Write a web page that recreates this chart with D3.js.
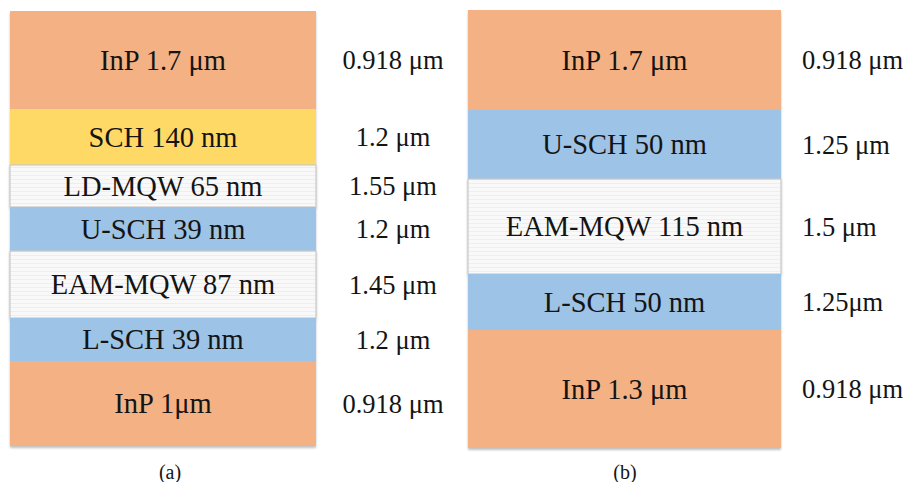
<!DOCTYPE html>
<html>
<head>
<meta charset="utf-8">
<script src="https://cdn.jsdelivr.net/npm/d3@7"></script>
<style>
  html, body { margin: 0; padding: 0; background: #fff; }
  svg { display: block; }
  text { font-family: "Liberation Serif", "Times New Roman", serif; fill: #141414; }
</style>
</head>
<body>
<svg id="chart" width="907" height="482"></svg>
<script>
// Epitaxial layer stacks: (a) integrated LD + EAM, (b) EAM only.
const layersA   = ["InP 1.7 μm", "SCH 140 nm", "LD-MQW 65 nm", "U-SCH 39 nm", "EAM-MQW 87 nm", "L-SCH 39 nm", "InP 1μm"];
const kindsA    = ["inp", "sch", "mqw", "usch", "mqw", "usch", "inp"];
const weightsA  = [98, 56, 42, 44, 67, 43, 85];   // relative drawn band heights
const bandgapA  = ["0.918 μm", "1.2 μm", "1.55 μm", "1.2 μm", "1.45 μm", "1.2 μm", "0.918 μm"];

const layersB   = ["InP 1.7 μm", "U-SCH 50 nm", "EAM-MQW 115 nm", "L-SCH 50 nm", "InP 1.3 μm"];
const kindsB    = ["inp", "usch", "mqw", "usch", "inp"];
const weightsB  = [100, 69, 95, 56, 118];
const bandgapB  = ["0.918 μm", "1.25 μm", "1.5 μm", "1.25μm", "0.918 μm"];

const captions  = ["(a)", "(b)"];

const kindColor = d3.scaleOrdinal()
  .domain(["inp", "sch", "usch", "mqw"])
  .range(["#F4B183", "#FFD966", "#9DC3E6", "url(#mqwPattern)"]);

const svg = d3.select("#chart");

// faint horizontal striping used for the quantum-well regions
const defs = svg.append("defs");
const pat = defs.append("pattern")
  .attr("id", "mqwPattern")
  .attr("patternUnits", "userSpaceOnUse")
  .attr("width", 8).attr("height", 4);
pat.append("rect").attr("width", 8).attr("height", 4).attr("fill", "#f9f9f9");
pat.append("rect").attr("y", 3).attr("width", 8).attr("height", 1).attr("fill", "#eeeeee");

const blur = defs.append("filter").attr("id", "soft").attr("x", "-5%").attr("y", "-5%").attr("width", "110%").attr("height", "115%");
blur.append("feGaussianBlur").attr("in", "SourceAlpha").attr("stdDeviation", 1.2);
blur.append("feOffset").attr("dx", 0).attr("dy", 1.5).attr("result", "ob");
blur.append("feComponentTransfer").append("feFuncA").attr("type", "linear").attr("slope", 0.25);
const merge = blur.append("feMerge");
merge.append("feMergeNode");
merge.append("feMergeNode").attr("in", "SourceGraphic");

const panels = [
  { layers: layersA, kinds: kindsA, weights: weightsA, gaps: bandgapA, caption: captions[0],
    x0: 10, x1: 316, y0: 11, y1: 446, labelX: 393, labelAnchor: "middle", capX: 170 },
  { layers: layersB, kinds: kindsB, weights: weightsB, gaps: bandgapB, caption: captions[1],
    x0: 468, x1: 781, y0: 10, y1: 448, labelX: 802, labelAnchor: "start", capX: 625 }
];

panels.forEach(p => {
  const cum = [0];
  p.weights.forEach(w => cum.push(cum[cum.length - 1] + w));
  const y = d3.scaleLinear().domain([0, cum[cum.length - 1]]).range([p.y0, p.y1]);
  const rows = p.layers.map((name, i) => ({
    name, kind: p.kinds[i], gap: p.gaps[i], top: cum[i], bottom: cum[i + 1]
  }));

  const g = svg.append("g");
  const stack = g.append("g").attr("filter", "url(#soft)");

  stack.selectAll("rect").data(rows).join("rect")
    .attr("x", p.x0)
    .attr("y", d => y(d.top))
    .attr("width", p.x1 - p.x0)
    .attr("height", d => y(d.bottom) - y(d.top))
    .attr("fill", d => kindColor(d.kind))
    .attr("stroke", d => d.kind === "mqw" ? "#c9c9c9" : "none")
    .attr("stroke-width", 1.2);

  g.selectAll("text.layer").data(rows).join("text")
    .attr("class", "layer")
    .attr("x", (p.x0 + p.x1) / 2)
    .attr("y", d => y((d.top + d.bottom) / 2))
    .attr("dy", "0.35em")
    .attr("text-anchor", "middle")
    .attr("font-size", 28.5)
    .text(d => d.name);

  g.selectAll("text.gap").data(rows).join("text")
    .attr("class", "gap")
    .attr("x", p.labelX)
    .attr("y", d => y((d.top + d.bottom) / 2))
    .attr("dy", "0.35em")
    .attr("text-anchor", p.labelAnchor)
    .attr("font-size", 26.5)
    .text(d => d.gap);

  g.append("text")
    .attr("x", p.capX)
    .attr("y", 472)
    .attr("dy", "0.35em")
    .attr("text-anchor", "middle")
    .attr("font-size", 20)
    .text(p.caption);
});
</script>
</body>
</html>
